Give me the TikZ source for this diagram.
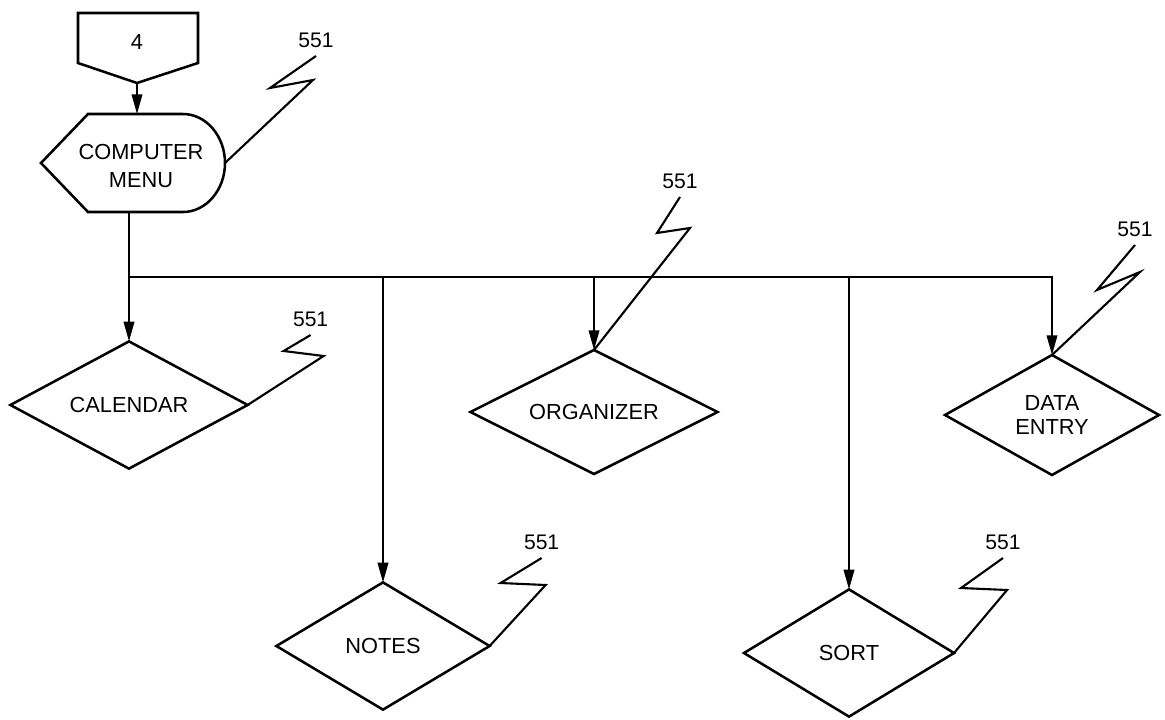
\documentclass[tikz,border=0pt]{standalone}
\usepackage{fontspec}
\setmainfont{Liberation Sans}
\usetikzlibrary{shapes.geometric}
\usetikzlibrary{arrows.meta}

\begin{document}
\begin{tikzpicture}[x=0.025cm,y=-0.025cm]
\useasboundingbox (0,0) rectangle (1165,719);
\begin{scope}[line width=1.8pt]
    \draw (78,13) -- (198,13) -- (198,63) -- (137,83) -- (78,63) -- cycle;
    \draw (88,114) -- (183,114) .. controls (206,114) and (225,136) .. (225,163)
          .. controls (225,190) and (206,212) .. (183,212) -- (88,212) -- (41,163) -- cycle;
\end{scope}
\begin{scope}[every node/.style={font=\fontsize{15.5}{20}\selectfont,align=center}]
    \node (Connector) at (137,42) {4};
    \node (Menu) at (141,166) {COMPUTER\\MENU};
\end{scope}
\coordinate (ConnectorTip) at (137,83);
\coordinate (MenuIn) at (137,114);
\coordinate (MenuOut) at (129,212);
\coordinate (MenuEdge) at (225,163);
\coordinate (Bus) at (129,277);
\begin{scope}[every node/.style={diamond,aspect=2,draw,line width=1.8pt,inner sep=0pt,outer sep=0pt,
                                 font=\fontsize{15.5}{17}\selectfont,align=center}]
    \node[minimum width=5.93cm,minimum height=3.18cm] (Calendar) at (129,405) {CALENDAR};
    \node[minimum width=5.33cm,minimum height=3.18cm] (Notes) at (383,646) {NOTES};
    \node[minimum width=6.18cm,minimum height=3.10cm] (Organizer) at (594,412) {ORGANIZER};
    \node[minimum width=5.25cm,minimum height=3.18cm] (Sort) at (849,653) {SORT};
    \node[minimum width=5.35cm,minimum height=3.00cm] (DataEntry) at (1052,415) {DATA\\ENTRY};
\end{scope}
\begin{scope}[>={Triangle[length=14pt,width=7.5pt]},
              flow_edge/.style={draw=black,line width=1.4pt},
              leader_edge/.style={draw=black,line width=1.5pt},
              every node/.style={font=\fontsize{15}{17}\selectfont,anchor=south,inner sep=5pt}]
    \path [->] (ConnectorTip) edge [flow_edge] (MenuIn);
    \path [-] (MenuOut) edge [flow_edge] (Bus);
    \path [->] (Bus) edge [flow_edge] (Calendar.north);
    \draw [->,flow_edge] (Bus) -| (DataEntry.north);
    \draw [->,flow_edge] (Bus -| Notes.north) -- (Notes.north);
    \draw [->,flow_edge] (Bus -| Organizer.north) -- (Organizer.north);
    \draw [->,flow_edge] (Bus -| Sort.north) -- (Sort.north);
    \draw [leader_edge] (MenuEdge) -- ++(88,-83) -- ++(-43,8) -- ++(46,-32) node (MenuRef) {551};
    \draw [leader_edge] (Calendar.east) -- ++(76,-49) -- ++(-40,-5) -- ++(27,-16) node (CalendarRef) {551};
    \draw [leader_edge] (Notes.east) -- ++(56,-61) -- ++(-45,-2) -- ++(41,-25) node (NotesRef) {551};
    \draw [leader_edge] (Organizer.north) -- ++(96,-122) -- ++(-33,5) -- ++(23,-36) node (OrganizerRef) {551};
    \draw [leader_edge] (DataEntry.north) -- ++(88,-83) -- ++(-43,18) -- ++(38,-45) node (DataEntryRef) {551};
    \draw [leader_edge] (Sort.east) -- ++(53,-63) -- ++(-46,-2) -- ++(42,-30) node (SortRef) {551};
\end{scope}
\end{tikzpicture}
\end{document}
